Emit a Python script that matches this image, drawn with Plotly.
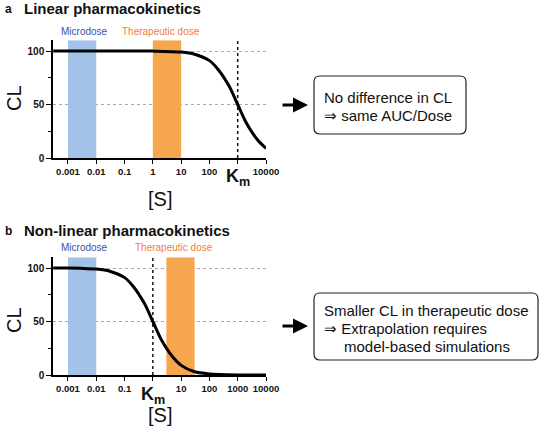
import plotly.graph_objects as go

W, H = 540, 427
FONT = "Liberation Sans, Arial, sans-serif"


def px(x):
    return x / W


def py(y):
    return 1 - y / H


# ---------------- data ----------------
# Panel a (linear PK): substrate concentration [S] and clearance CL
s_a = [0.0003, 0.001, 0.01, 0.1, 1, 10, 30, 100, 200, 500, 1000, 2000, 5000, 10000]
cl_a = [100, 100, 100, 100, 99.9, 99, 97, 91, 83, 67, 50, 33, 17, 9]

# Panel b (non-linear PK)
s_b = [0.0003, 0.001, 0.003, 0.01, 0.03, 0.1, 0.2, 0.5, 1, 2, 5, 10, 30, 100, 1000, 10000]
cl_b = [100, 100, 99.7, 99, 97, 91, 83, 67, 50, 33, 17, 9, 3, 1, 0.1, 0]

micro_range = [0.001, 0.01]
thera_range_a = [1, 10]
thera_range_b = [3, 30]
km_a = 1000
km_b = 1
cl_top = 110

xtick_vals = [0.001, 0.01, 0.1, 1, 10, 100, 1000, 10000]
xtick_text_a = ["0.001", "0.01", "0.1", "1", "10", "100", "", "10000"]
xtick_text_b = ["0.001", "0.01", "0.1", "", "10", "100", "1000", "10000"]
ytick_vals = [0, 50, 100]
ytick_minor = [25, 75]

BLUE_BAND = "#a3c2e8"
ORANGE_BAND = "#f6a64c"
BLUE_TXT = "#3d4f9f"
ORANGE_TXT = "#ef7d40"
INK = "#111111"

fig = go.Figure()


def band(xr, color, xa, ya):
    fig.add_trace(go.Scatter(
        x=[xr[0], xr[1], xr[1], xr[0], xr[0]],
        y=[0, 0, cl_top, cl_top, 0],
        fill="toself", fillcolor=color, mode="lines",
        line=dict(width=0, color=color), xaxis=xa, yaxis=ya, hoverinfo="skip"))


def panel(s, cl, thera, km, xa, ya):
    band(micro_range, BLUE_BAND, xa, ya)
    band(thera, ORANGE_BAND, xa, ya)
    fig.add_trace(go.Scatter(x=[km, km], y=[0, cl_top], mode="lines",
                             line=dict(color=INK, width=1.5, dash="dot"),
                             xaxis=xa, yaxis=ya, hoverinfo="skip"))
    fig.add_trace(go.Scatter(x=s, y=cl, mode="lines",
                             line=dict(color="black", width=3, shape="spline", smoothing=0.8),
                             xaxis=xa, yaxis=ya))


panel(s_a, cl_a, thera_range_a, km_a, "x", "y")
panel(s_b, cl_b, thera_range_b, km_b, "x2", "y2")


def xaxis(labels, anchor, dom):
    return dict(type="log", range=[-3.53, 4.0], domain=dom, anchor=anchor,
                automargin=False, tickangle=0,
                showline=True, linecolor="black", linewidth=1.5,
                ticks="outside", ticklen=4, tickwidth=1.2, tickcolor="black",
                showgrid=False, zeroline=False, tickmode="array",
                tickvals=xtick_vals, ticktext=["<b>%s</b>" % t if t else "" for t in labels],
                tickfont=dict(size=9.5, color=INK, family=FONT))


def yaxis(anchor, dom):
    return dict(range=[0, cl_top], domain=dom, anchor=anchor, automargin=False,
                showline=True, linecolor="black", linewidth=1.5,
                ticks="outside", ticklen=5, tickwidth=1.2, tickcolor="black",
                showgrid=True, gridcolor="#a8a8a8", griddash="dot", gridwidth=1,
                zeroline=False, tickmode="array", tickvals=ytick_vals,
                ticktext=["<b>%d</b>" % v for v in ytick_vals],
                tickfont=dict(size=10, color=INK, family=FONT),
                minor=dict(tickvals=ytick_minor, ticks="outside", ticklen=3,
                           tickcolor="black", showgrid=False))


xdom = [px(53), px(266)]
ydom_a = [py(158), py(40.3)]
ydom_b = [py(375), py(257.3)]

annotations = []


def text(x, y, s, size, color=INK, xanchor="center", yanchor="middle", angle=0, xref="paper"):
    annotations.append(dict(x=x, y=y, xref=xref, yref="paper", text=s, showarrow=False,
                            xanchor=xanchor, yanchor=yanchor, textangle=angle,
                            font=dict(size=size, color=color, family=FONT)))


# Panel a texts
text(px(3), py(9), "<b>a</b>", 12, xanchor="left")
text(px(22), py(8.5), "<b>Linear pharmacokinetics</b>", 15, xanchor="left")
text(px(84), py(32), "Microdose", 10, color=BLUE_TXT)
text(px(160.5), py(32), "Therapeutic dose", 10, color=ORANGE_TXT)
text(px(14), py(98), "CL", 20, angle=-90)
text(px(160), py(199), "[S]", 20)
text(3, py(177), "<b>K<sub>m</sub></b>", 18, xref="x")

# Panel b texts
text(px(3), py(231), "<b>b</b>", 12, xanchor="left")
text(px(22), py(230.5), "<b>Non-linear pharmacokinetics</b>", 15, xanchor="left")
text(px(84), py(247), "Microdose", 10, color=BLUE_TXT)
text(px(174), py(247), "Therapeutic dose", 10, color=ORANGE_TXT)
text(px(14), py(320), "CL", 20, angle=-90)
text(px(160), py(415), "[S]", 20)
text(0, py(395), "<b>K<sub>m</sub></b>", 18, xref="x2")

# Boxes text
text(px(322), py(97), "No difference in CL", 15, xanchor="left")
text(px(322), py(115), "\u21d2 same AUC/Dose", 15, xanchor="left")
text(px(322), py(310.5), "Smaller CL in therapeutic dose", 15, xanchor="left")
text(px(322), py(328), "\u21d2 Extrapolation requires", 15, xanchor="left")
text(px(342), py(346), "model-based simulations", 15, xanchor="left")

# Arrows
for yy in (105, 326):
    annotations.append(dict(x=px(308), y=py(yy), xref="paper", yref="paper",
                            ax=-27, ay=0, axref="pixel", ayref="pixel", text="",
                            showarrow=True, arrowhead=2, arrowsize=1, arrowwidth=3,
                            arrowcolor="black"))


def rrect(x0, y0, x1, y1, r):
    def P(x, y):
        return "%.5f,%.5f" % (px(x), py(y))
    path = ("M %s L %s Q %s %s L %s Q %s %s L %s Q %s %s L %s Q %s %s Z" % (
        P(x0 + r, y0), P(x1 - r, y0), P(x1, y0), P(x1, y0 + r),
        P(x1, y1 - r), P(x1, y1), P(x1 - r, y1),
        P(x0 + r, y1), P(x0, y1), P(x0, y1 - r),
        P(x0, y0 + r), P(x0, y0), P(x0 + r, y0)))
    return dict(type="path", path=path, xref="paper", yref="paper",
                line=dict(color="#222222", width=1.2))


shapes = [rrect(314, 76, 466, 134, 6), rrect(314, 293, 538, 360, 6)]

fig.update_layout(
    width=W, height=H, margin=dict(l=0, r=0, t=0, b=0),
    paper_bgcolor="white", plot_bgcolor="white", showlegend=False,
    xaxis=xaxis(xtick_text_a, "y", xdom), yaxis=yaxis("x", ydom_a),
    xaxis2=xaxis(xtick_text_b, "y2", xdom), yaxis2=yaxis("x2", ydom_b),
    annotations=annotations, shapes=shapes,
    font=dict(family=FONT, color=INK),
)

fig.write_html("out.html", config={"displayModeBar": False},
               post_script="document.body.style.margin='0';document.body.style.padding='0';")
